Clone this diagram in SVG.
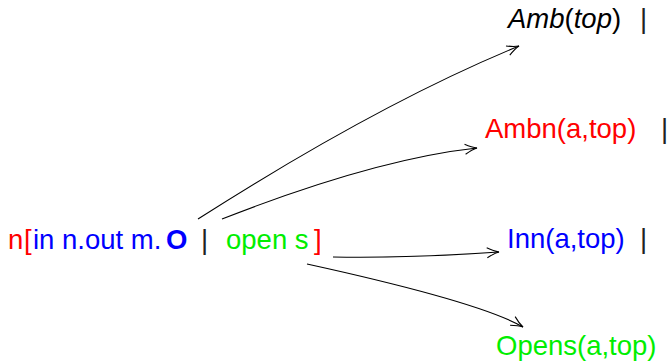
<svg xmlns="http://www.w3.org/2000/svg" width="668" height="364" viewBox="0 0 668 364">
<style>
text{font-family:"Liberation Sans","DejaVu Sans",sans-serif;font-size:27.5px}
.r{fill:#ff0000}.b{fill:#0000ff}.g{fill:#00ee00}.k{fill:#000}
.bar{fill:#222;font-weight:300}
.c{fill:none;stroke:#000;stroke-width:1.1}
</style>
<defs>
<marker id="ah" markerWidth="16" markerHeight="12" viewBox="-14 -6 16 12" refX="0" refY="0" orient="auto" markerUnits="userSpaceOnUse">
<path d="M-12,-5 Q-5,-1 0,0 Q-5,1 -12,5" fill="none" stroke="#000" stroke-width="1.1"/>
</marker>
</defs>
<rect width="668" height="364" fill="#fff"/>
<g id="connectors">
<path class="c" d="M198,219 Q378,104 519,46" marker-end="url(#ah)"/>
<path class="c" d="M222,219 Q375,159 477,148" marker-end="url(#ah)"/>
<path class="c" d="M333,257 C380,258 440,256 499,252" marker-end="url(#ah)"/>
<path class="c" d="M307,264 Q480,302 523,327" marker-end="url(#ah)"/>
</g>
<g id="source">
<text x="8" y="249"><tspan class="r">n</tspan><tspan class="r" x="24">[</tspan><tspan class="b" x="33">in n.out m.</tspan><tspan class="b" x="166" font-weight="bold">O</tspan><tspan class="bar" x="201">|</tspan><tspan class="g" x="226">open s</tspan><tspan class="r" x="314">]</tspan></text>
</g>
<g id="amb">
<text x="508" y="28" class="k"><tspan font-style="italic">Amb</tspan>(<tspan font-style="italic">top</tspan>)<tspan class="bar" x="640">|</tspan></text>
</g>
<g id="ambn">
<text x="485" y="138"><tspan class="r">Ambn(a,top)</tspan><tspan class="bar" x="661">|</tspan></text>
</g>
<g id="inn">
<text x="507" y="248"><tspan class="b">Inn(a,top)</tspan><tspan class="bar" x="640">|</tspan></text>
</g>
<g id="opens">
<text x="496" y="355" class="g">Opens(a,top)</text>
</g>
</svg>
